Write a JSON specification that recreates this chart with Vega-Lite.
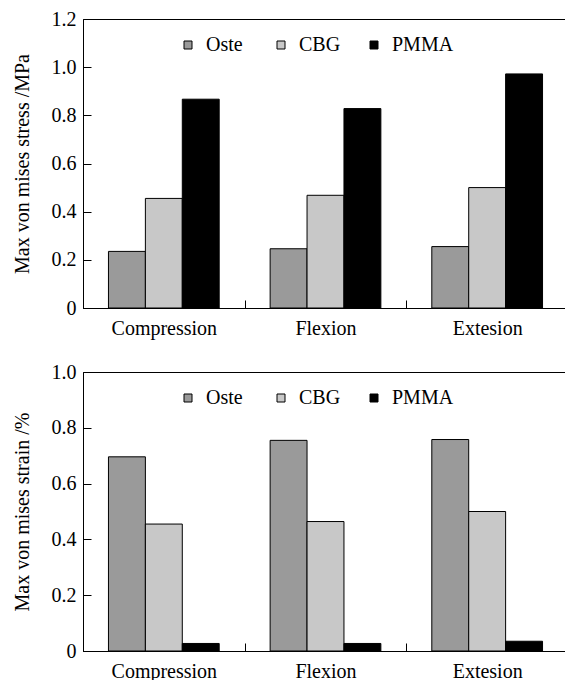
{
  "$schema": "https://vega.github.io/schema/vega-lite/v6.json",
  "background": "white",
  "padding": {"left": 11, "top": 8, "right": 0, "bottom": 0},
  "spacing": 22,
  "config": {
    "font": "Liberation Serif, Times New Roman, serif",
    "view": {"stroke": "black", "strokeWidth": 1},
    "axis": {
      "labelFont": "Liberation Serif, Times New Roman, serif",
      "labelFontSize": 20,
      "labelColor": "black",
      "titleFont": "Liberation Serif, Times New Roman, serif",
      "titleFontSize": 20,
      "titleFontWeight": "normal",
      "titleColor": "black",
      "domainColor": "black",
      "tickColor": "black",
      "grid": false
    },
    "legend": {
      "labelFont": "Liberation Serif, Times New Roman, serif",
      "labelFontSize": 20,
      "labelColor": "black",
      "padding": 0
    }
  },
  "data": {
    "values": [
      {"load": "Compression", "material": "Oste", "stress": 0.235, "strain": 0.696},
      {"load": "Compression", "material": "CBG", "stress": 0.455, "strain": 0.455},
      {"load": "Compression", "material": "PMMA", "stress": 0.867, "strain": 0.027},
      {"load": "Flexion", "material": "Oste", "stress": 0.246, "strain": 0.755},
      {"load": "Flexion", "material": "CBG", "stress": 0.468, "strain": 0.464},
      {"load": "Flexion", "material": "PMMA", "stress": 0.828, "strain": 0.027},
      {"load": "Extesion", "material": "Oste", "stress": 0.255, "strain": 0.758},
      {"load": "Extesion", "material": "CBG", "stress": 0.5, "strain": 0.5},
      {"load": "Extesion", "material": "PMMA", "stress": 0.972, "strain": 0.035}
    ]
  },
  "vconcat": [
    {
      "width": 485,
      "height": 289,
      "mark": {"type": "bar", "stroke": "black", "strokeWidth": 1},
      "encoding": {
        "x": {
          "field": "load", "type": "nominal",
          "sort": ["Compression", "Flexion", "Extesion"],
          "scale": {"paddingInner": 0, "paddingOuter": 0},
          "axis": {"title": null, "labelAngle": 0, "tickBand": "extent", "tickSize": -8, "labelPadding": 18}
        },
        "xOffset": {
          "field": "material", "type": "nominal",
          "sort": ["Oste", "CBG", "PMMA"],
          "scale": {"paddingInner": 0, "paddingOuter": 0.69}
        },
        "y": {
          "field": "stress", "type": "quantitative",
          "scale": {"domain": [0, 1.2]},
          "axis": {
            "title": "Max von mises stress /MPa",
            "values": [0, 0.2, 0.4, 0.6, 0.8, 1.0, 1.2],
            "labelExpr": "datum.value == 0 ? '0' : format(datum.value, '.1f')",
            "tickSize": -8, "labelPadding": 15, "titlePadding": 19
          }
        },
        "fill": {
          "field": "material", "type": "nominal",
          "scale": {"domain": ["Oste", "CBG", "PMMA"], "range": ["#9a9a9a", "#c8c8c8", "#000000"]},
          "legend": {
            "title": null, "orient": "none", "legendX": 95, "legendY": 16,
            "direction": "horizontal", "symbolType": "square", "symbolSize": 64,
            "symbolStrokeColor": "black", "symbolStrokeWidth": 1,
            "labelOffset": 8, "columnPadding": 3, "gridAlign": "all"
          }
        }
      }
    },
    {
      "width": 485,
      "height": 279,
      "mark": {"type": "bar", "stroke": "black", "strokeWidth": 1},
      "encoding": {
        "x": {
          "field": "load", "type": "nominal",
          "sort": ["Compression", "Flexion", "Extesion"],
          "scale": {"paddingInner": 0, "paddingOuter": 0},
          "axis": {"title": null, "labelAngle": 0, "tickBand": "extent", "tickSize": -8, "labelPadding": 18}
        },
        "xOffset": {
          "field": "material", "type": "nominal",
          "sort": ["Oste", "CBG", "PMMA"],
          "scale": {"paddingInner": 0, "paddingOuter": 0.69}
        },
        "y": {
          "field": "strain", "type": "quantitative",
          "scale": {"domain": [0, 1.0]},
          "axis": {
            "title": "Max von mises strain /%",
            "values": [0, 0.2, 0.4, 0.6, 0.8, 1.0],
            "labelExpr": "datum.value == 0 ? '0' : format(datum.value, '.1f')",
            "tickSize": -8, "labelPadding": 15, "titlePadding": 19
          }
        },
        "fill": {
          "field": "material", "type": "nominal",
          "scale": {"domain": ["Oste", "CBG", "PMMA"], "range": ["#9a9a9a", "#c8c8c8", "#000000"]},
          "legend": {
            "title": null, "orient": "none", "legendX": 95, "legendY": 16,
            "direction": "horizontal", "symbolType": "square", "symbolSize": 64,
            "symbolStrokeColor": "black", "symbolStrokeWidth": 1,
            "labelOffset": 8, "columnPadding": 3, "gridAlign": "all"
          }
        }
      }
    }
  ],
  "resolve": {"scale": {"fill": "independent"}, "legend": {"fill": "independent"}}
}
